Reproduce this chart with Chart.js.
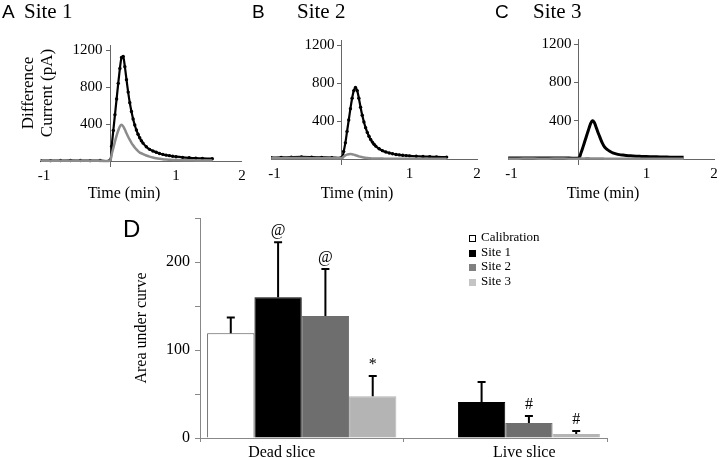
<!DOCTYPE html>
<html>
<head>
<meta charset="utf-8">
<script src="https://cdn.jsdelivr.net/npm/chart.js@4.4.0/dist/chart.umd.min.js"></script>
<style>
  html, body { margin: 0; padding: 0; background: #fff; }
  #fig { position: relative; width: 720px; height: 458px; overflow: hidden; font-family: 'Liberation Serif', serif; color: #000; }
  #fig canvas { position: absolute; left: 0; top: 0; }
  .letter { position: absolute; font-family: 'Liberation Sans', Arial, sans-serif; font-size: 19px; line-height: 19px; }
  .site { position: absolute; font-size: 21px; line-height: 21px; }
  .ytitle { position: absolute; width: 130px; height: 38px; line-height: 19px; font-size: 17px; text-align: center; transform: rotate(-90deg); }
  .xtitle { position: absolute; width: 120px; top: 184px; line-height: 18px; font-size: 16px; text-align: center; }
  #legend { position: absolute; left: 469px; top: 230px; font-size: 13px; }
  #legend div { height: 14.5px; line-height: 14.5px; white-space: nowrap; }
  #legend span { display: inline-block; width: 7px; height: 7px; margin-right: 5px; box-sizing: border-box; vertical-align: -1px; }
</style>
</head>
<body>
<div id="fig">
  <canvas id="chartA" width="720" height="458"></canvas>
  <canvas id="chartB" width="720" height="458"></canvas>
  <canvas id="chartC" width="720" height="458"></canvas>
  <canvas id="chartD" width="720" height="458"></canvas>

  <div class="letter" style="left:2px;top:2px">A</div><div class="site" style="left:24px;top:1px">Site 1</div>
  <div class="letter" style="left:252px;top:2px">B</div><div class="site" style="left:297px;top:1px">Site 2</div>
  <div class="letter" style="left:495px;top:2px">C</div><div class="site" style="left:533px;top:1px">Site 3</div>
  <div class="letter" style="left:123px;top:217px;font-size:24px;line-height:24px">D</div>
  <div class="ytitle" style="left:-28px;top:74px">Difference<br>Current (pA)</div>
  <div class="xtitle" style="left:64px">Time (min)</div>
  <div class="xtitle" style="left:297px">Time (min)</div>
  <div class="xtitle" style="left:543px">Time (min)</div>
  <div id="legend"></div>
</div>

<script>
// ---- traces (panels A-C) ----
const times = [-1.05, -0.9, -0.75, -0.6, -0.45, -0.3, -0.15, 0,
  0.025, 0.05, 0.075, 0.1, 0.125, 0.15, 0.175, 0.2, 0.225, 0.25, 0.275, 0.3,
  0.325, 0.35, 0.375, 0.4, 0.425, 0.45, 0.475, 0.5,
  0.55, 0.6, 0.65, 0.7, 0.75, 0.8, 0.85, 0.9, 0.95, 1.0,
  1.1, 1.2, 1.3, 1.4, 1.55];

const site1Black = [5, 4, 5, 6, 5, 4, 5, 10,
  160, 330, 500, 670, 840, 1000, 1120, 1130, 1020, 880, 745, 630,
  535, 455, 390, 335, 290, 252, 220, 194,
  154, 126, 108, 95, 82, 72, 64, 58, 52, 47,
  40, 35, 31, 28, 25];
const site1Gray = [2, 2, 3, 2, 2, 3, 2, 5,
  70, 140, 210, 275, 330, 375, 392, 375, 340, 300, 262, 228,
  197, 170, 146, 125, 107, 91, 84, 75,
  60, 48, 38, 30, 24, 19, 16, 14, 12, 11,
  9, 8, 7, 7, 6];

const site2Black = [15, 17, 20, 22, 20, 17, 15, 18,
  80, 170, 290, 410, 530, 640, 720, 752, 720, 640, 545, 460,
  390, 330, 280, 240, 205, 178, 155, 136,
  108, 88, 74, 63, 55, 48, 43, 39, 36, 33,
  29, 26, 24, 22, 20];
const site2Gray = [8, 9, 10, 10, 9, 8, 8, 10,
  25, 38, 46, 50, 52, 50, 46, 40, 34, 28, 23, 19,
  15, 12, 10, 8, 7, 6, 5, 5,
  4, 4, 3, 3, 3, 3, 3, 3, 3, 3,
  3, 3, 3, 3, 3];

const site3Black = [10, 10, 11, 12, 11, 10, 10, 12,
  55, 105, 160, 215, 270, 325, 375, 400, 385, 340, 290, 245,
  200, 160, 130, 110, 95, 83, 73, 65,
  54, 46, 41, 37, 34, 31, 29, 28, 27, 26,
  24, 22, 20, 19, 18];
const site3Gray = [4, 4, 5, 4, 4, 5, 4, 4,
  5, 6, 6, 7, 7, 7, 6, 6, 6, 5, 5, 5,
  5, 5, 4, 4, 4, 4, 4, 4,
  4, 4, 3, 3, 3, 3, 3, 3, 3, 3,
  3, 3, 3, 3, 3];

// ---- area under curve (panel D) ----
const categories = ['Dead slice', 'Live slice'];
const seriesNames = ['Calibration', 'Site 1', 'Site 2', 'Site 3'];
const calibration = [119, null];
const site1 = [160, 41];
const site2 = [138.5, 17];
const site3 = [47.5, 4.5];
const calibrationErr = [18, null];
const site1Err = [62.5, 22.5];
const site2Err = [53.5, 8];
const site3Err = [23, 3.5];
const calibrationMarks = ['', ''];
const site1Marks = ['@', ''];
const site2Marks = ['@', '#'];
const site3Marks = ['*', '#'];

const SERIF = "'Liberation Serif', 'Times New Roman', serif";
Chart.defaults.font.family = SERIF;
Chart.defaults.color = '#000';
Chart.defaults.animation = false;

function toXY(ys) { return times.map((t, i) => ({ x: t, y: ys[i] })); }

// area = chart area in page pixels
function traceChart(id, black, gray, area, blackStyle) {
  return new Chart(document.getElementById(id), {
    type: 'line',
    data: {
      datasets: [
        Object.assign({ data: toXY(black), borderColor: '#000', backgroundColor: '#000', pointBackgroundColor: '#000',
          pointBorderWidth: 0, tension: 0.3, order: 1 }, blackStyle),
        { data: toXY(gray), borderColor: '#8c8c8c', borderWidth: 2.5, pointRadius: 0, tension: 0.3, order: 0 }
      ]
    },
    options: {
      responsive: false,
      layout: { padding: { left: area.left, top: area.top, right: 720 - area.right, bottom: 458 - area.bottom } },
      plugins: { legend: { display: false }, tooltip: { enabled: false } },
      scales: {
        x: {
          type: 'linear', min: -1.05, max: 2, position: { y: 0 },
          border: { color: '#666', width: 1 },
          grid: { drawOnChartArea: false, tickLength: 5, tickColor: c => c.tick && c.tick.value === 0 ? '#666' : 'rgba(0,0,0,0)' },
          ticks: { stepSize: 1, includeBounds: false, padding: 1, font: { size: 15 }, maxRotation: 0,
            callback: v => v === 0 ? '' : String(v) }
        },
        y: {
          type: 'linear', min: -30, max: 1250, position: { x: 0 },
          border: { color: '#666', width: 1 },
          grid: { drawOnChartArea: false, tickLength: 4, tickColor: '#666' },
          // labels of a centred axis are drawn flush with it, the trailing spaces keep them clear
          ticks: { stepSize: 200, includeBounds: false, font: { size: 15 },
            callback: v => (v > 0 && v % 400 === 0) ? v + '\u00a0\u00a0' : '' }
        }
      }
    }
  });
}

traceChart('chartA', site1Black, site1Gray, { left: 40.7, right: 242, top: 45.4, bottom: 163.8 },
  { borderWidth: 2.2, pointRadius: 1.7 });
traceChart('chartB', site2Black, site2Gray, { left: 271.1, right: 477, top: 40.25, bottom: 161.85 },
  { borderWidth: 2.2, pointRadius: 1.7 });
traceChart('chartC', site3Black, site3Gray, { left: 508.1, right: 714, top: 39.25, bottom: 161.9 },
  { borderWidth: 3, pointRadius: 0 });

// error bars + significance marks drawn from bar elements
const errorBars = {
  id: 'errorBars',
  afterDatasetsDraw(chart) {
    const { ctx } = chart;
    const y = chart.scales.y;
    ctx.save();
    chart.data.datasets.forEach((ds, i) => {
      chart.getDatasetMeta(i).data.forEach((bar, j) => {
        const v = ds.data[j];
        if (v == null) return;
        const top = y.getPixelForValue(v + ds.errors[j]);
        ctx.strokeStyle = '#000';
        ctx.lineWidth = 2;
        ctx.beginPath();
        ctx.moveTo(bar.x, bar.y);
        ctx.lineTo(bar.x, top);
        ctx.moveTo(bar.x - 4, top);
        ctx.lineTo(bar.x + 4, top);
        ctx.stroke();
        if (ds.marks[j]) {
          ctx.fillStyle = '#000';
          ctx.font = '16px ' + SERIF;
          ctx.textAlign = 'center';
          ctx.textBaseline = 'bottom';
          ctx.fillText(ds.marks[j], bar.x, top - 3);
        }
      });
    });
    ctx.restore();
  }
};

// category labels sit off-centre in the original
const labelShift = [-20, 19];
const catLabels = {
  id: 'catLabels',
  afterDraw(chart) {
    const { ctx, chartArea } = chart;
    const x = chart.scales.x;
    ctx.save();
    ctx.fillStyle = '#000';
    ctx.font = '16px ' + SERIF;
    ctx.textAlign = 'center';
    ctx.textBaseline = 'middle';
    categories.forEach((c, i) => ctx.fillText(c, x.getPixelForValue(i) + labelShift[i], chartArea.bottom + 15));
    ctx.restore();
  }
};

const barColors = ['#ffffff', '#000000', '#6e6e6e', '#b4b4b4'];
const legendColors = ['#ffffff', '#000000', '#808080', '#c4c4c4'];
const barData = [calibration, site1, site2, site3];
const barErrs = [calibrationErr, site1Err, site2Err, site3Err];
const barMarks = [calibrationMarks, site1Marks, site2Marks, site3Marks];

new Chart(document.getElementById('chartD'), {
  type: 'bar',
  data: {
    labels: categories,
    datasets: seriesNames.map((name, i) => ({
      label: name, data: barData[i], errors: barErrs[i], marks: barMarks[i],
      backgroundColor: barColors[i], borderColor: i === 0 ? '#555' : barColors[i], borderWidth: 1,
      categoryPercentage: 0.93, barPercentage: 1
    }))
  },
  options: {
    responsive: false,
    layout: { padding: { left: 132, top: 218, right: 113, bottom: 0 } },
    plugins: { legend: { display: false }, tooltip: { enabled: false } },
    scales: {
      x: {
        border: { color: '#888' },
        grid: { drawOnChartArea: false, tickLength: 4, tickColor: '#888' },
        ticks: { display: false },
        afterFit: s => { s.height = 20; }
      },
      y: {
        min: 0, max: 250,
        border: { color: '#888' },
        grid: { drawOnChartArea: false, tickLength: 5, tickColor: '#888' },
        ticks: { stepSize: 50, padding: 5, font: { size: 16 }, callback: v => v % 100 === 0 ? String(v) : '' },
        title: { display: true, text: 'Area under curve', font: { size: 16 }, padding: { top: 0, bottom: 0 } },
        afterFit: s => { s.width = 68; }
      }
    }
  },
  plugins: [errorBars, catLabels]
});

// legend
const legend = document.getElementById('legend');
seriesNames.forEach((name, i) => {
  const row = document.createElement('div');
  const border = i === 0 ? '1px solid #000' : 'none';
  row.innerHTML = `<span style="background:${legendColors[i]};border:${border}"></span>${name}`;
  legend.appendChild(row);
});
</script>
</body>
</html>
